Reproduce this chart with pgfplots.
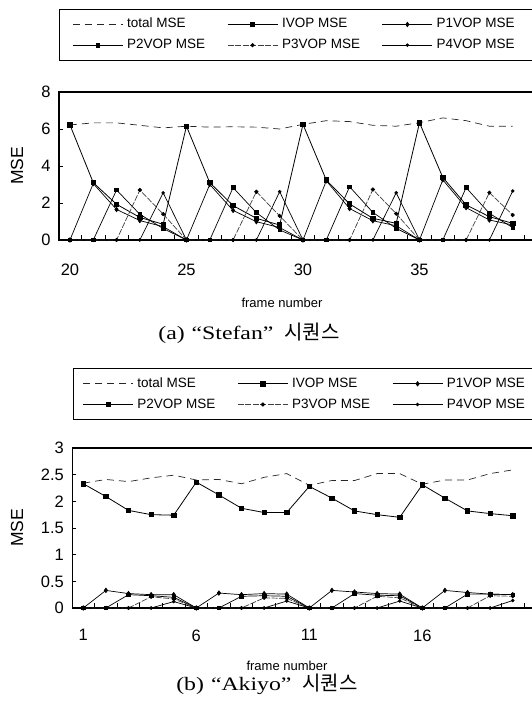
\documentclass[border=0pt]{standalone}
\usepackage{fontspec}
\setmainfont{Liberation Sans}
\newfontfamily\capfont{Liberation Serif}[FakeStretch=1.25]
\newfontfamily\kr{Noto Sans CJK KR}
\usepackage{pgfplots}
\pgfplotsset{compat=1.18}
\usepackage{pgfplotstable}

\pgfplotstableread{
f tot I P1 P2 P3 P4
20 6.22 6.22 0 0 0 0
21 6.33 3.10 3.05 0 0 0
22 6.33 1.93 1.65 2.70 0 0
23 6.20 1.22 1.05 1.39 2.70 0
24 6.06 0.85 0.72 0.62 1.40 2.55
25 6.15 6.15 0 0 0 0
26 6.10 3.10 3.00 0 0 0
27 6.12 1.86 1.60 2.83 0 0
28 6.10 1.17 0.99 1.48 2.61 0
29 6.00 0.81 0.67 0.54 1.30 2.61
30 6.25 6.25 0 0 0 0
31 6.45 3.24 3.20 0 0 0
32 6.40 1.95 1.70 2.88 0 0
33 6.20 1.17 1.04 1.49 2.73 0
34 6.15 0.90 0.77 0.63 1.42 2.55
35 6.34 6.34 0 0 0 0
36 6.60 3.38 3.25 0 0 0
37 6.45 1.90 1.75 2.83 0 0
38 6.15 1.26 1.08 1.44 2.56 0
39 6.15 0.90 0.81 0.67 1.35 2.65
}\stefan

\pgfplotstableread{
f tot I P1 P2 P3 P4
1 2.34 2.33 0 0 0 0
2 2.41 2.09 0.33 0 0 0
3 2.37 1.83 0.27 0.25 0 0
4 2.44 1.75 0.25 0.23 0.21 0
5 2.49 1.74 0.25 0.20 0.17 0.12
6 2.40 2.36 0 0 0 0
7 2.41 2.12 0.28 0 0 0
8 2.33 1.87 0.25 0.22 0 0
9 2.45 1.79 0.27 0.23 0.19 0
10 2.52 1.79 0.26 0.22 0.18 0.13
11 2.30 2.28 0 0 0 0
12 2.39 2.06 0.33 0 0 0
13 2.39 1.82 0.30 0.27 0 0
14 2.52 1.75 0.27 0.24 0.22 0
15 2.52 1.70 0.26 0.23 0.19 0.13
16 2.32 2.31 0 0 0 0
17 2.40 2.06 0.33 0 0 0
18 2.40 1.82 0.29 0.26 0 0
19 2.52 1.77 0.26 0.26 0.23 0
20 2.59 1.73 0.25 0.25 0.22 0.14
}\akiyo

\pgfplotsset{
  msechart/.style={
    scale only axis,
    clip=false,
    axis line style={line width=1.6pt},
    tick align=inside,
    xtick pos=bottom, ytick pos=left,
    major x tick style={draw=none},
    minor x tick style={line width=0.8pt,black},
    minor tick length=5pt,
    major tick length=4pt,
    ytick style={line width=0.6pt,black},
    ticklabel style={font=\fontsize{16.5}{18}\selectfont},
    /pgf/number format/assume math mode=true,
    yticklabel style={xshift=-5pt},
    label style={font=\fontsize{17.5}{20}\selectfont},
    xlabel style={font=\fontsize{13}{15}\selectfont, anchor=center},
    ylabel style={rotate=0, anchor=center},
    legend columns=3,
    legend cell align=left,
    legend image code/.code={\draw[mark repeat=2,mark phase=2,##1] plot coordinates {(0pt,0pt) (25pt,0pt) (50pt,0pt)};},
    legend style={
      draw=black, line width=1pt,
      inner ysep=6.5pt,
      font=\fontsize{13.5}{15}\selectfont,
      nodes={inner sep=2pt, text height=10pt, text depth=3pt, anchor=west},
      row sep=3.7pt,
      /tikz/every odd column/.append style={column sep=2pt},
      /tikz/every even column/.append style={column sep=3pt},
    },
  },
  totst/.style={black!85, line width=0.7pt, dash pattern=on 7pt off 5pt},
  ist/.style={black, line width=0.8pt, mark=square*, mark size=2.2pt, mark options={solid}},
  p1st/.style={black, line width=0.7pt, mark=diamond*, mark size=2.2pt, mark options={solid}},
  p2st/.style={black, line width=0.7pt, mark=square*, mark size=1.8pt, mark options={solid}},
  p3st/.style={black!75, line width=0.7pt, dash pattern=on 6pt off 1.5pt, mark=*, mark size=1.7pt, mark options={solid,black}},
  p4st/.style={black, line width=0.7pt, mark=*, mark size=1.4pt, mark options={solid}},
}

\begin{document}
\begin{tikzpicture}[x=1pt,y=1pt]
\useasboundingbox (0pt,0pt) rectangle (531pt,701pt);

% ---------- (a) Stefan ----------
\begin{axis}[msechart,
  at={(59pt,609pt)}, anchor=north west,
  width=477pt, height=148pt,
  xmin=19.53, xmax=40.0, ymin=0, ymax=8,
  xtick={20,25,30,35},
  minor xtick={20.5,21.5,...,39.5},
  ytick={0,2,4,6,8},
  xticklabel style={yshift=-20.5pt},
  xlabel={frame number},
  xlabel style={at={(axis description cs:0.4675,-0.4257)}},
  ylabel={MSE},
  ylabel style={at={(axis description cs:-0.088,0.5)}},
  legend style={at={(axis description cs:0,1.5608)}, anchor=north west, inner xsep=13pt},
]
\addplot[totst] table[x=f,y=tot]{\stefan};
\addlegendentry{\makebox[95pt][l]{total MSE}}
\addplot[ist] table[x=f,y=I]{\stefan};
\addlegendentry{\makebox[95pt][l]{IVOP MSE}}
\addplot[p1st] table[x=f,y=P1]{\stefan};
\addlegendentry{\makebox[95pt][l]{P1VOP MSE}}
\addplot[p2st] table[x=f,y=P2]{\stefan};
\addlegendentry{\makebox[95pt][l]{P2VOP MSE}}
\addplot[p3st] table[x=f,y=P3]{\stefan};
\addlegendentry{\makebox[95pt][l]{P3VOP MSE}}
\addplot[p4st] table[x=f,y=P4]{\stefan};
\addlegendentry{\makebox[95pt][l]{P4VOP MSE}}
\end{axis}

\node[anchor=center] at (249pt,368pt) {\fontsize{19}{22}\selectfont\capfont (a)\hspace{7pt}“Stefan”\hspace{11pt}{\kr\fontsize{20}{22}\selectfont 시퀀스}};

% ---------- (b) Akiyo ----------
\begin{axis}[msechart,
  at={(72.3pt,253pt)}, anchor=north west,
  width=463.7pt, height=160pt,
  xmin=0.513, xmax=21.03, ymin=0, ymax=3,
  xtick={1,6,11,16},
  minor xtick={1.5,2.5,...,20.5},
  ytick={0,0.5,1,1.5,2,2.5,3},
  xticklabel style={yshift=-18pt},
  xlabel={frame number},
  xlabel style={at={(axis description cs:0.463,-0.3625)}},
  ylabel={MSE},
  ylabel style={at={(axis description cs:-0.1193,0.5)}},
  legend style={at={(axis description cs:0.002,1.498)}, anchor=north west, inner xsep=9pt},
]
\addplot[totst] table[x=f,y=tot]{\akiyo};
\addlegendentry{\makebox[95pt][l]{total MSE}}
\addplot[ist] table[x=f,y=I]{\akiyo};
\addlegendentry{\makebox[95pt][l]{IVOP MSE}}
\addplot[p1st] table[x=f,y=P1]{\akiyo};
\addlegendentry{\makebox[95pt][l]{P1VOP MSE}}
\addplot[p2st] table[x=f,y=P2]{\akiyo};
\addlegendentry{\makebox[95pt][l]{P2VOP MSE}}
\addplot[p3st] table[x=f,y=P3]{\akiyo};
\addlegendentry{\makebox[95pt][l]{P3VOP MSE}}
\addplot[p4st] table[x=f,y=P4]{\akiyo};
\addlegendentry{\makebox[95pt][l]{P4VOP MSE}}
\end{axis}

\node[anchor=center] at (267pt,17pt) {\fontsize{19}{22}\selectfont\capfont (b)\hspace{7pt}“Akiyo”\hspace{11pt}{\kr\fontsize{20}{22}\selectfont 시퀀스}};
\end{tikzpicture}
\end{document}
